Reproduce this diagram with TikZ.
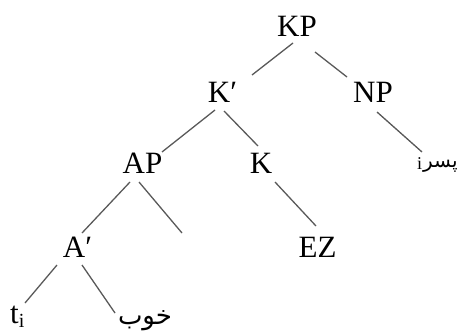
\documentclass[tikz,border=0pt]{standalone}
\usepackage{fontspec}
\setmainfont{Liberation Serif}
\newfontfamily\arabicfont[Script=Arabic]{DejaVu Sans}
\TeXXeTstate=1
\usetikzlibrary{calc}
\begin{document}
\begin{tikzpicture}[x=1pt,y=1pt,
  lab/.style={inner sep=0pt,anchor=base,font=\fontsize{31}{36}\selectfont},
  word/.style={inner sep=0pt,font=\fontsize{26}{30}\arabicfont},
  branch/.style={draw=black!65,line width=1.3pt}]
\useasboundingbox (0,0) rectangle (459,333);
% nodes
\node[lab] (KP) at (297,297) {KP};
\node[lab] (Kb) at (222.5,230) {K′};
\node[lab] (NP) at (373,230) {NP};
\node[lab] (AP) at (142.5,160) {AP};
\node[lab] (K) at (261,160) {K};
\node[lab] (Ab) at (77.5,76) {A′};
\node[lab] (EZ) at (317.5,76) {EZ};
\node[lab,anchor=base west] (t) at (10,10) {t\raisebox{-4pt}{\fontsize{20}{22}\selectfont i}};
\node[word] (khub) at (145,12) {\beginR خوب\endR};
\node[word,font=\fontsize{20}{24}\arabicfont,anchor=base west] (pesar) at (417,165) {\raisebox{-2pt}{\fontsize{18}{20}\selectfont\rmfamily i}\kern1pt\beginR پسر\endR};
\coordinate (gap) at (182,100);
% branches
\draw[branch] ($(KP.base)+(-4,-7)$) -- ($(Kb.base)+(29.5,28)$);
\draw[branch] ($(KP.base)+(18,-16)$) -- ($(NP.base)+(-26,26)$);
\draw[branch] ($(Kb.base)+(-7.5,-7)$) -- ($(AP.base)+(19.5,21)$);
\draw[branch] ($(Kb.base)+(1.5,-8)$) -- ($(K.base)+(-3,27)$);
\draw[branch] ($(AP.base)+(-12.5,-9)$) -- ($(Ab.base)+(4.5,24)$);
\draw[branch] ($(AP.base)+(-3.5,-9)$) -- (gap);
\draw[branch] ($(K.base)+(14,-9)$) -- ($(EZ.base)+(-1.5,31)$);
\draw[branch] ($(NP.base)+(4,-9)$) -- ($(pesar.base west)+(5,16)$);
\draw[branch] ($(Ab.base)+(-20.5,-8)$) -- ($(t.base west)+(15,20)$);
\draw[branch] ($(Ab.base)+(4.5,-8)$) -- ($(khub.center)+(-30,8)$);
\end{tikzpicture}
\end{document}
